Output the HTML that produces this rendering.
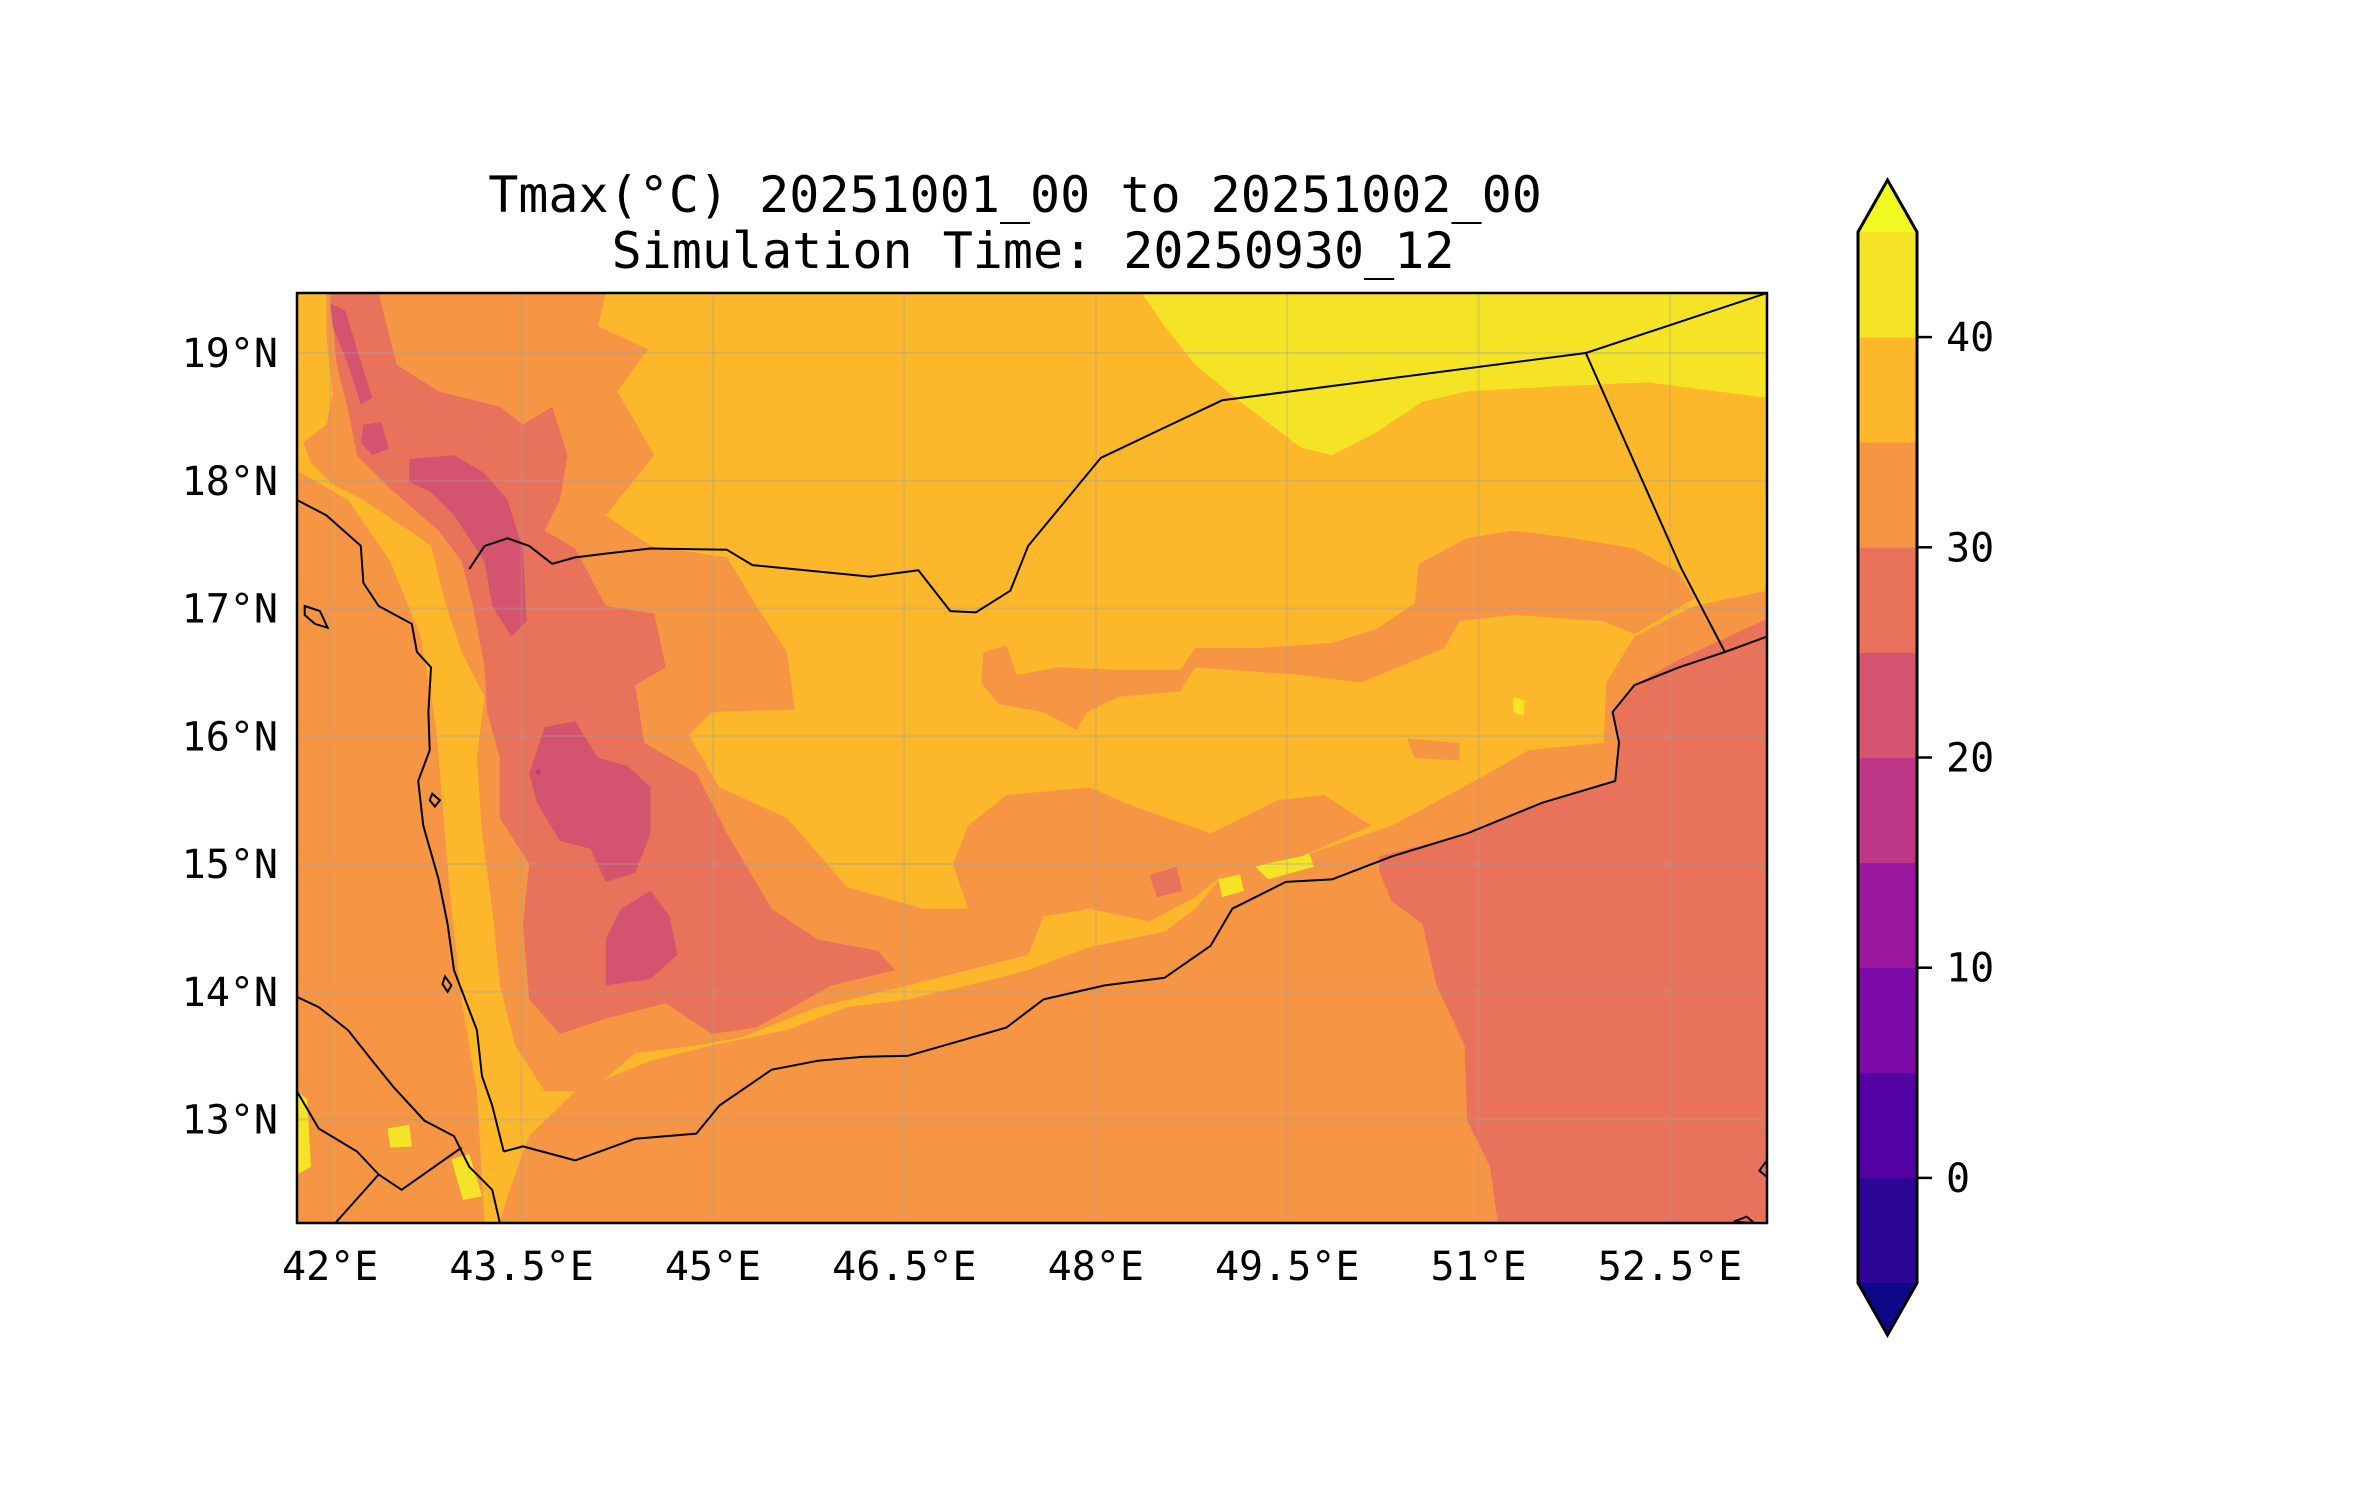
<!DOCTYPE html>
<html><head><meta charset="utf-8">
<style>
html,body{margin:0;padding:0;background:#fff;}
svg{display:block;}
text{font-family:"DejaVu Sans Mono","Liberation Mono",monospace;fill:#000;}
</style></head>
<body>
<svg id="chart" width="2371" height="1500" viewBox="0 0 2371 1500" xmlns="http://www.w3.org/2000/svg">
  <defs><clipPath id="mapclip"><rect x="297" y="293" width="1470" height="930"/></clipPath></defs>
  <text x="1015" y="212" font-size="50" text-anchor="middle">Tmax(°C) 20251001_00 to 20251002_00</text>
  <text x="1033" y="268" font-size="50" text-anchor="middle">Simulation Time: 20250930_12</text>
  <g id="map" clip-path="url(#mapclip)"></g>
  <rect x="297" y="293" width="1470" height="930" fill="none" stroke="#000" stroke-width="2.5"/>
  <g id="axes"></g>
  <g id="cbar"></g>
</svg>
<script>
// ---- axis extents ----
const lonMin = 41.74, lonMax = 53.26, latMin = 12.19, latMax = 19.47;
const lonTicks = [42, 43.5, 45, 46.5, 48, 49.5, 51, 52.5];
const lonTickLabels = ["42°E","43.5°E","45°E","46.5°E","48°E","49.5°E","51°E","52.5°E"];
const latTicks = [13, 14, 15, 16, 17, 18, 19];
const latTickLabels = ["13°N","14°N","15°N","16°N","17°N","18°N","19°N"];
// ---- colorbar ----
const levels = [-5,0,5,10,15,20,25,30,35,40,45];
const levelColors = ["#2c0594","#5302a3","#7b0aa6","#9c179e","#bd3786","#d4536e","#e8735a","#f69544","#fdb72b","#f5e426"];
const cbTicks = [0,10,20,30,40];
const underColor = "#0d0887", overColor = "#f0f921";
// ---- contour fills (band value, [lon,lat] vertices) ----
const fillOrder = ["base","y1","by1","by2","by3","by4","by5","by6","by7","omid","opatch","osouth","ohigh","rs","r1","r2","p1","p2","p3","p4","p5"];
const fillLevels = {base:32.5,y1:37.5,by1:42.5,by2:42.5,by3:42.5,by4:42.5,by5:42.5,by6:42.5,by7:42.5,omid:32.5,opatch:32.5,osouth:32.5,ohigh:32.5,rs:27.5,r1:27.5,r2:27.5,p1:22.5,p2:22.5,p3:22.5,p4:22.5,p5:22.5};
const base = [[41.5,19.7],[53.5,19.7],[53.5,12.0],[41.5,12.0]];
const y1 = [[44.16,19.47],[53.26,19.47],[53.26,17.14],[52.69,17.02],[52.22,16.78],[52.00,16.42],[51.98,15.95],[51.39,15.89],[50.97,15.65],[50.32,15.30],[49.61,15.06],[49.02,14.94],[48.78,14.65],[48.54,14.47],[47.95,14.35],[47.47,14.17],[47.00,14.05],[46.53,13.94],[46.05,13.88],[45.58,13.70],[44.99,13.58],[44.51,13.46],[43.92,13.22],[43.56,12.87],[43.39,12.40],[43.33,12.19],[43.21,12.19],[43.15,13.22],[43.03,13.94],[42.95,14.65],[42.89,15.36],[42.83,16.07],[42.71,16.78],[42.47,17.37],[42.14,17.85],[41.74,18.08],[41.74,19.47]];
const by1 = [[48.36,19.47],[53.26,19.47],[53.26,18.65],[52.33,18.77],[51.62,18.74],[50.91,18.70],[50.56,18.62],[50.20,18.38],[49.85,18.20],[49.61,18.26],[49.13,18.62],[48.78,18.91],[48.54,19.21]];
const by2 = [[48.96,14.88],[49.13,14.92],[49.16,14.79],[48.99,14.74]];
const by3 = [[49.25,14.98],[49.67,15.09],[49.71,14.98],[49.35,14.88]];
const by4 = [[51.27,16.31],[51.36,16.28],[51.35,16.16],[51.27,16.19]];
const by5 = [[41.74,13.22],[41.82,13.16],[41.85,12.63],[41.74,12.57]];
const by6 = [[42.45,12.93],[42.62,12.96],[42.64,12.79],[42.47,12.78]];
const by7 = [[42.95,12.69],[43.09,12.73],[43.19,12.40],[43.04,12.37]];
const omid = [[47.12,16.66],[47.30,16.71],[47.38,16.48],[47.71,16.54],[48.18,16.52],[48.66,16.52],[48.78,16.69],[49.25,16.69],[49.85,16.73],[50.20,16.84],[50.50,17.04],[50.53,17.35],[50.91,17.55],[51.27,17.61],[51.74,17.55],[52.22,17.47],[52.57,17.28],[52.69,17.08],[52.22,16.80],[51.98,16.90],[51.27,16.95],[50.85,16.90],[50.73,16.69],[50.08,16.42],[49.61,16.48],[48.78,16.54],[48.66,16.35],[48.18,16.31],[47.93,16.19],[47.85,16.05],[47.59,16.19],[47.24,16.25],[47.10,16.42]];
const opatch = [[50.44,15.98],[50.85,15.95],[50.85,15.81],[50.50,15.83]];
const osouth = [[45.82,13.88],[46.53,14.08],[46.94,14.29],[47.00,14.65],[46.88,15.00],[47.00,15.30],[47.30,15.54],[47.95,15.60],[48.30,15.45],[48.90,15.24],[49.43,15.50],[49.79,15.54],[50.16,15.30],[49.61,15.06],[49.02,14.94],[48.78,14.74],[48.42,14.55],[47.95,14.65],[47.59,14.59],[47.47,14.29],[47.00,14.17],[46.05,13.94]];
const ohigh = [[41.97,19.47],[44.16,19.47],[44.10,19.21],[44.49,19.03],[44.25,18.70],[44.54,18.20],[44.16,17.73],[44.51,17.49],[45.11,17.40],[45.34,17.02],[45.58,16.66],[45.64,16.21],[44.99,16.19],[44.81,16.01],[45.05,15.60],[45.58,15.36],[46.05,14.82],[46.65,14.65],[47.00,14.65],[47.00,14.17],[46.53,14.05],[45.82,13.88],[45.22,13.64],[44.87,13.58],[44.39,13.52],[44.04,13.22],[43.68,13.22],[43.45,13.58],[43.33,14.05],[43.27,14.65],[43.19,15.24],[43.15,15.83],[43.21,16.31],[43.03,16.66],[42.91,17.02],[42.79,17.49],[42.62,17.61],[42.26,17.85],[42.02,17.97],[41.85,18.14],[41.79,18.30],[41.97,18.44],[42.02,18.68],[41.97,19.15]];
const rs = [[50.22,15.06],[50.91,15.24],[51.50,15.48],[52.07,15.65],[52.10,15.95],[52.05,16.19],[52.22,16.40],[52.57,16.60],[53.26,16.92],[53.26,12.19],[51.15,12.19],[51.09,12.63],[50.91,12.99],[50.89,13.58],[50.67,14.05],[50.56,14.53],[50.32,14.71],[50.22,14.94]];
const r1 = [[42.00,19.47],[42.38,19.47],[42.52,18.91],[42.85,18.70],[43.33,18.58],[43.51,18.44],[43.74,18.58],[43.86,18.20],[43.80,17.85],[43.68,17.61],[43.92,17.47],[44.16,17.02],[44.54,16.96],[44.63,16.54],[44.39,16.40],[44.46,15.95],[44.87,15.71],[45.11,15.24],[45.46,14.65],[45.82,14.41],[46.29,14.32],[46.43,14.17],[45.93,14.05],[45.34,13.72],[44.99,13.67],[44.63,13.91],[44.16,13.79],[43.80,13.67],[43.56,13.94],[43.51,14.53],[43.56,15.00],[43.33,15.36],[43.33,15.83],[43.23,16.19],[43.21,16.54],[43.12,17.02],[43.03,17.37],[42.85,17.61],[42.47,17.94],[42.21,18.20],[42.14,18.56],[42.05,18.91]];
const r2 = [[48.42,14.91],[48.63,14.98],[48.68,14.79],[48.48,14.74]];
const p1 = [[42.00,19.39],[42.12,19.33],[42.21,19.03],[42.33,18.65],[42.24,18.60],[42.14,18.91],[42.02,19.21]];
const p2 = [[42.26,18.44],[42.40,18.46],[42.46,18.25],[42.33,18.20],[42.24,18.30]];
const p3 = [[42.62,18.17],[42.97,18.20],[43.21,18.06],[43.39,17.85],[43.51,17.47],[43.54,16.90],[43.42,16.78],[43.27,17.02],[43.21,17.37],[42.97,17.73],[42.79,17.91],[42.62,17.99]];
const p4 = [[43.68,16.07],[43.92,16.12],[44.10,15.83],[44.33,15.77],[44.51,15.60],[44.51,15.24],[44.39,14.93],[44.16,14.86],[44.04,15.12],[43.80,15.18],[43.62,15.48],[43.56,15.71]];
const p5 = [[44.28,14.65],[44.51,14.79],[44.66,14.59],[44.72,14.29],[44.51,14.10],[44.16,14.05],[44.16,14.41]];
const fills = {base,y1,by1,by2,by3,by4,by5,by6,by7,omid,opatch,osouth,ohigh,rs,r1,r2,p1,p2,p3,p4,p5};
// ---- boundary lines ----
const borderSaudi = [[43.09,17.31],[43.21,17.49],[43.39,17.55],[43.56,17.49],[43.74,17.35],[43.92,17.40],[44.16,17.43],[44.51,17.47],[45.11,17.46],[45.31,17.34],[46.23,17.25],[46.61,17.30],[46.86,16.98],[47.06,16.97],[47.33,17.14],[47.47,17.49],[48.04,18.18],[48.99,18.63],[51.84,19.00],[53.26,19.47]];
const borderOman = [[51.84,19.00],[52.59,17.31],[52.93,16.66]];
const coastWest = [[41.74,17.85],[41.97,17.73],[42.24,17.49],[42.26,17.20],[42.38,17.02],[42.64,16.88],[42.68,16.66],[42.79,16.54],[42.77,16.19],[42.78,15.89],[42.69,15.65],[42.73,15.30],[42.85,14.88],[42.92,14.53],[42.97,14.17],[43.15,13.70],[43.19,13.34],[43.27,13.11],[43.36,12.75]];
const coastSouth = [[43.36,12.75],[43.51,12.79],[43.92,12.68],[44.39,12.85],[44.87,12.89],[45.05,13.11],[45.46,13.39],[45.82,13.46],[46.17,13.49],[46.53,13.50],[46.88,13.60],[47.30,13.72],[47.59,13.94],[48.07,14.05],[48.54,14.11],[48.90,14.36],[49.07,14.65],[49.49,14.86],[49.85,14.88],[50.32,15.06],[50.91,15.24],[51.50,15.48],[52.07,15.65],[52.10,15.95],[52.05,16.19],[52.22,16.40],[52.57,16.54],[52.93,16.66],[53.26,16.78]];
const coastAfrica = [[41.74,13.96],[41.91,13.88],[42.14,13.70],[42.33,13.46],[42.50,13.25],[42.74,12.99],[42.97,12.87],[43.09,12.63],[43.27,12.45],[43.33,12.19]];
const borderAfrica1 = [[41.74,13.22],[41.91,12.93],[42.21,12.75],[42.38,12.57],[42.56,12.45],[43.03,12.78]];
const borderAfrica2 = [[42.04,12.19],[42.38,12.57]];
const islands = [[[41.80,17.02],[41.92,16.98],[41.98,16.85],[41.88,16.88],[41.80,16.95]],[[42.90,14.12],[42.95,14.05],[42.92,14.00],[42.88,14.06]],[[42.80,15.55],[42.86,15.50],[42.82,15.45],[42.78,15.50]],[[53.00,12.20],[53.16,12.19],[53.10,12.24]],[[53.20,12.60],[53.26,12.55],[53.26,12.68]]];
const lines = [borderSaudi,borderOman,coastWest,coastSouth,coastAfrica,borderAfrica1,borderAfrica2];
const lineNames = ["saudi-yemen-border","oman-yemen-border","red-sea-coastline","gulf-of-aden-coastline","africa-coastline","eritrea-djibouti-border","djibouti-border"];

// ---- scales ----
const X0=297, X1=1767, Y0=293, Y1=1223;
function xs(lon){return X0+(lon-lonMin)/(lonMax-lonMin)*(X1-X0);}
function ys(lat){return Y0+(latMax-lat)/(latMax-latMin)*(Y1-Y0);}
const CB_TOP=232, CB_BOT=1283, CBX=1858, CBW=59;
function cy(v){return CB_BOT-(v-levels[0])/(levels[levels.length-1]-levels[0])*(CB_BOT-CB_TOP);}
function colorFor(v){for(let i=0;i<levels.length-1;i++){if(v>=levels[i]&&v<levels[i+1])return levelColors[i];}return v<levels[0]?underColor:overColor;}
const NS="http://www.w3.org/2000/svg";
function mk(tag,attrs,parent){const e=document.createElementNS(NS,tag);for(const k in attrs)e.setAttribute(k,attrs[k]);parent.appendChild(e);return e;}
function pts(arr){return arr.map(p=>xs(p[0]).toFixed(1)+","+ys(p[1]).toFixed(1)).join(" ");}

const map=document.getElementById("map");
fillOrder.forEach(k=>{
  const e=mk("polygon",{points:pts(fills[k]),fill:colorFor(fillLevels[k])},map);
  
  
});
const dot=mk("circle",{cx:xs(43.63),cy:ys(15.72),r:2.5,fill:colorFor(17.5)},map);


latTicks.forEach(v=>{
  const g=mk("line",{x1:X0,x2:X1,y1:ys(v),y2:ys(v),stroke:"#a0a0a0","stroke-opacity":"0.35","stroke-width":2},map);
  
  
});
lonTicks.forEach(v=>{
  const g=mk("line",{x1:xs(v),x2:xs(v),y1:Y0,y2:Y1,stroke:"#a0a0a0","stroke-opacity":"0.3","stroke-width":2},map);
  
  
});
lines.forEach((l,i)=>{
  const e=mk("polyline",{points:pts(l),fill:"none",stroke:"#000","stroke-width":2,"stroke-linejoin":"round"},map);
  
  
});
islands.forEach(l=>{
  const e=mk("polygon",{points:pts(l),fill:"none",stroke:"#000","stroke-width":2},map);
  
  
});

const axes=document.getElementById("axes");
lonTicks.forEach((v,i)=>{
  const t=mk("text",{x:xs(v),y:1280,"font-size":40,"text-anchor":"middle"},axes);
  t.textContent=lonTickLabels[i];
  
  
});
latTicks.forEach((v,i)=>{
  const t=mk("text",{x:278,y:ys(v)+14,"font-size":40,"text-anchor":"end"},axes);
  t.textContent=latTickLabels[i];
  
  
});

const cb=document.getElementById("cbar");
for(let i=0;i<levels.length-1;i++){
  const r=mk("rect",{x:CBX,y:cy(levels[i+1]),width:CBW,height:cy(levels[i])-cy(levels[i+1])+0.5,fill:levelColors[i]},cb);
  
  
}
const up=mk("polygon",{points:`${CBX},${CB_TOP} ${CBX+CBW/2},180 ${CBX+CBW},${CB_TOP}`,fill:overColor},cb);


const dn=mk("polygon",{points:`${CBX},${CB_BOT} ${CBX+CBW/2},1335 ${CBX+CBW},${CB_BOT}`,fill:underColor},cb);


const outline=mk("polygon",{points:`${CBX},${CB_TOP} ${CBX+CBW/2},180 ${CBX+CBW},${CB_TOP} ${CBX+CBW},${CB_BOT} ${CBX+CBW/2},1335 ${CBX},${CB_BOT}`,fill:"none",stroke:"#000","stroke-width":3},cb);


cbTicks.forEach(v=>{
  const l=mk("line",{x1:CBX+CBW,x2:CBX+CBW+15,y1:cy(v),y2:cy(v),stroke:"#000","stroke-width":2.5},cb);
  
  
  const t=mk("text",{x:1946,y:cy(v)+14,"font-size":40},cb);
  t.textContent=String(v);
  
  
});
</script>
</body></html>
